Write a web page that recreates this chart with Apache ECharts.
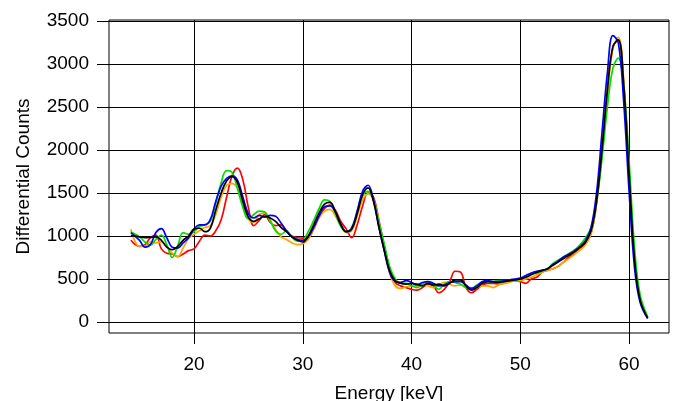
<!DOCTYPE html>
<html>
<head>
<meta charset="utf-8">
<script src="https://cdn.jsdelivr.net/npm/echarts@6/dist/echarts.min.js"></script>
<style>
  html, body { margin: 0; padding: 0; background: #fff; }
  #chart { width: 675px; height: 401px; }
</style>
</head>
<body>
<div id="chart"></div>
<script>
// energy grid, keV
var energy = [
  14.2, 15, 15.5, 16, 16.5, 17, 17.5, 18, 18.5, 19, 19.5,
  20, 20.5, 21, 21.5, 22, 22.5, 23, 23.5, 24, 24.5,
  25, 25.5, 26, 26.5, 27, 27.5, 28, 28.5, 29, 29.5,
  30, 30.5, 31, 31.5, 32, 32.5, 33, 33.5, 34, 34.5,
  35, 35.5, 36, 36.5, 37, 37.5, 38, 38.5, 39, 39.5,
  40, 40.5, 41, 41.5, 42, 42.5, 43, 43.5, 44, 44.5,
  45, 45.5, 46, 46.5, 47, 47.5, 48, 48.5, 49, 49.5,
  50, 50.5, 51, 51.5, 52, 52.5, 53, 53.5, 54, 54.5,
  55, 55.5, 56, 56.5, 57, 57.5, 58, 58.5, 59, 59.5,
  60, 60.5, 61, 61.7
];

var redCounts = [
  950, 880, 900, 980, 1010, 850, 800, 790, 760, 790, 830,
  850, 940, 1010, 1000, 1060, 1190, 1450, 1700, 1790, 1650,
  1330, 1120, 1180, 1250, 1160, 1120, 1130, 1060, 1000, 980,
  975, 980, 1080, 1220, 1320, 1360, 1300, 1170, 1080, 980,
  1130, 1350, 1500, 1450, 1180, 880, 620, 460, 420, 400,
  380, 370, 400, 440, 420, 340, 380, 470, 590, 580,
  400, 340, 380, 430, 450, 450, 440, 450, 470, 480,
  470, 450, 500, 520, 580, 600, 620, 650, 700, 760,
  800, 850, 910, 1030, 1380, 1980, 2680, 3200, 3280, 2780,
  1700, 720, 260, 50
];

var orangeCounts = [
  1080, 880, 880, 930, 920, 930, 880, 800, 760, 860, 970,
  1020, 1060, 1100, 1120, 1250, 1450, 1590, 1610, 1560, 1380,
  1200, 1160, 1250, 1270, 1180, 1080, 990, 960, 920, 900,
  910, 960, 1090, 1210, 1290, 1310, 1230, 1120, 1040, 1060,
  1230, 1420, 1490, 1420, 1160, 850, 560, 420, 390, 410,
  420, 420, 430, 420, 400, 430, 460, 440, 420, 430,
  410, 390, 400, 420, 420, 400, 430, 450, 460, 480,
  480, 500, 520, 550, 580, 600, 620, 650, 700, 740,
  790, 840, 900, 1030, 1380, 1950, 2650, 3180, 3310, 2800,
  1750, 750, 270, 50
];

var greenCounts = [
  1045, 990, 930, 895, 960, 1010, 900, 750, 880, 1040, 1020,
  1050, 1110, 1130, 1170, 1380, 1620, 1760, 1740, 1550, 1330,
  1200, 1250, 1290, 1280, 1180, 1060, 1020, 1060, 990, 940,
  950, 1050, 1180, 1320, 1420, 1400, 1260, 1110, 1050, 1100,
  1280, 1470, 1520, 1420, 1160, 900, 640, 500, 450, 450,
  420, 400, 440, 470, 430, 380, 440, 470, 460, 440,
  400, 390, 430, 460, 470, 470, 480, 480, 480, 490,
  500, 520, 560, 570, 590, 620, 680, 720, 760, 800,
  840, 900, 980, 1100, 1400, 1900, 2500, 2950, 3070, 2750,
  1850, 850, 320, 60
];

var blueCounts = [
  1040, 950, 870, 900, 1040, 1085, 980, 870, 860, 920, 980,
  1080, 1130, 1130, 1190, 1400, 1580, 1670, 1700, 1650, 1450,
  1260, 1210, 1240, 1220, 1240, 1230, 1150, 1060, 990, 960,
  950, 990, 1100, 1230, 1340, 1350, 1280, 1140, 1050, 1090,
  1290, 1520, 1590, 1420, 1100, 820, 570, 470, 460, 480,
  460, 430, 460, 470, 450, 420, 430, 460, 470, 470,
  430, 390, 420, 470, 480, 470, 470, 480, 490, 500,
  510, 540, 570, 590, 600, 620, 670, 710, 760, 790,
  830, 880, 950, 1100, 1500, 2200, 2900, 3330, 3250, 2550,
  1500, 620, 230, 40
];

var blackCounts = [
  1005, 990, 980, 985, 990, 950, 870, 840, 880, 950, 1000,
  1080, 1090, 1050, 1090, 1300, 1500, 1640, 1690, 1620, 1400,
  1220, 1170, 1200, 1230, 1210, 1170, 1100, 1050, 990, 950,
  930, 1000, 1130, 1270, 1370, 1390, 1280, 1130, 1050, 1080,
  1260, 1480, 1560, 1400, 1100, 830, 590, 480, 450, 440,
  450, 440, 420, 450, 430, 440, 420, 450, 490, 490,
  420, 370, 400, 450, 470, 465, 460, 470, 480, 490,
  500, 520, 550, 575, 600, 620, 660, 700, 740, 780,
  820, 870, 930, 1060, 1400, 2000, 2700, 3200, 3280, 2750,
  1700, 720, 260, 45
];

var xTicks = [20, 30, 40, 50, 60];
var yTicks = [0, 500, 1000, 1500, 2000, 2500, 3000, 3500];

var curves = [
  { name: "red", color: "#ff0000", values: redCounts },
  { name: "orange", color: "#ffa500", values: orangeCounts },
  { name: "green", color: "#00dd00", values: greenCounts },
  { name: "blue", color: "#0000ff", values: blueCounts },
  { name: "black", color: "#000000", values: blackCounts }
];

var font = "Liberation Sans, Arial, sans-serif";
var myChart = echarts.init(document.getElementById("chart"), null, { renderer: "canvas" });

var option = {
  animation: false,
  grid: [
    // plot box (data lives here)
    { left: 109, right: 6, top: 20, bottom: 68, show: true, borderColor: "#000", borderWidth: 1, containLabel: false, outerBoundsMode: "none" },
    // x ticks 20..60
    { left: 194, right: 46, top: 20, bottom: 68, containLabel: false, outerBoundsMode: "none" },
    // y ticks 0..3500
    { left: 109, right: 6, top: 21, bottom: 79, containLabel: false, outerBoundsMode: "none" }
  ],
  xAxis: [
    {
      gridIndex: 0, type: "value", min: 12.19, max: 63.66,
      axisLine: { show: false }, axisTick: { show: false }, axisLabel: { show: false }, splitLine: { show: false },
      name: "Energy [keV]", nameLocation: "middle", nameGap: 51, nameMoveOverlap: false,
      nameTextStyle: { fontFamily: font, fontSize: 19, color: "#000" }
    },
    {
      gridIndex: 1, type: "value", min: xTicks[0], max: xTicks[xTicks.length - 1], interval: 10,
      axisLine: { show: false },
      axisTick: { show: true, length: 11, lineStyle: { color: "#000", width: 1 } },
      axisLabel: { fontFamily: font, fontSize: 19, color: "#000", margin: 22 },
      splitLine: { show: true, lineStyle: { color: "#000", width: 1 } }
    },
    {
      gridIndex: 2, type: "value", show: false
    }
  ],
  yAxis: [
    {
      gridIndex: 0, type: "value", min: -128, max: 3512,
      axisLine: { show: false }, axisTick: { show: false }, axisLabel: { show: false }, splitLine: { show: false },
      name: "Differential Counts", nameLocation: "middle", nameGap: 76,
      nameTextStyle: { fontFamily: font, fontSize: 19, color: "#000" }
    },
    {
      gridIndex: 1, type: "value", show: false
    },
    {
      gridIndex: 2, type: "value", min: yTicks[0], max: yTicks[yTicks.length - 1], interval: 500,
      axisLine: { show: false },
      axisTick: { show: true, length: 12, lineStyle: { color: "#000", width: 1 } },
      axisLabel: {
        fontFamily: font, fontSize: 19, color: "#000", margin: 20,
        formatter: function (v) { return String(v); }
      },
      splitLine: { show: true, lineStyle: { color: "#000", width: 1 } }
    }
  ],
  series: curves.map(function (c) {
    return {
      name: c.name,
      type: "line",
      xAxisIndex: 0,
      yAxisIndex: 0,
      smooth: 0.4,
      showSymbol: false,
      symbol: "none",
      lineStyle: { color: c.color, width: 1.7 },
      data: energy.map(function (e, i) { return [e, c.values[i]]; }),
      z: 3
    };
  })
};
myChart.setOption(option);
</script>
</body>
</html>
